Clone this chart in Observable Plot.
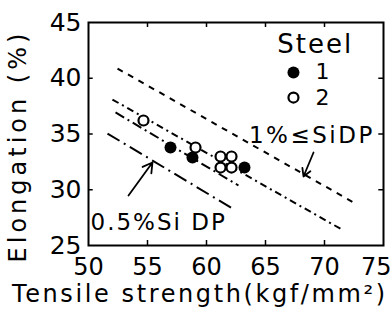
<!DOCTYPE html>
<html><head><meta charset="utf-8">
<script src="https://cdn.jsdelivr.net/npm/d3@7"></script>
<script src="https://cdn.jsdelivr.net/npm/@observablehq/plot@0.6"></script>
<style>html,body{margin:0;padding:0;background:#fff}</style>
</head><body><div id="chart"></div>
<script>
const xTicks = [50, 55, 60, 65, 70, 75];
const yTicks = [25, 30, 35, 40, 45];
const innerXTicks = [55, 60, 65, 70];
const innerYTicks = [30, 35, 40];
const xTitle = "Tensile strength(kgf/mm²)";
const yTitle = "Elongation (%)";

// Steel 1 (filled) and Steel 2 (open)
const steel1X = [56.95, 58.81, 63.22];
const steel1Y = [33.79, 32.89, 32.0];
const steel2X = [54.66, 59.07, 61.19, 62.12, 61.19, 62.12];
const steel2Y = [36.21, 33.79, 32.98, 32.98, 31.99, 31.99];

// Trend lines
const lineNames = ["1%≤SiDP", "Steel 2", "Steel 1", "0.5%Si DP"];
const lineX1 = [52.46, 52.03, 52.29, 51.61];
const lineY1 = [40.87, 38.09, 36.93, 35.04];
const lineX2 = [72.46, 71.61, 62.71, 62.20];
const lineY2 = [28.86, 26.35, 30.38, 28.32];

// Arrows for annotations
const arrowX1 = [69.07, 53.39];
const arrowY1 = [33.34, 29.48];
const arrowX2 = [68.22, 55.42];
const arrowY2 = [31.19, 32.44];

// Annotation labels
const labelText = ["1%≤SiDP", "0.5%Si DP"];
const labelX = [63.6, 50.17];
const labelY = [34.87, 27.06];
const legendTitle = "Steel";

// Legend
const legendNames = ["1", "2"];
const legendX = [67.37, 67.37];
const legendY = [40.52, 38.27];

const dashes = ["6,6", "7,4,2,4", "10,4,2,4", "14,5,2,5"];
const links = lineNames.map((n, i) => ({n, x1: lineX1[i], y1: lineY1[i], x2: lineX2[i], y2: lineY2[i], dash: dashes[i]}));
const arrows = arrowX1.map((d, i) => ({x1: d, y1: arrowY1[i], x2: arrowX2[i], y2: arrowY2[i]}));
const labels = labelText.map((t, i) => ({t, x: labelX[i], y: labelY[i]}));
const s1 = steel1X.map((x, i) => ({x, y: steel1Y[i]}));
const s2 = steel2X.map((x, i) => ({x, y: steel2Y[i]}));

const chart = Plot.plot({
  width: 392, height: 316,
  marginLeft: 88, marginRight: 9, marginTop: 22, marginBottom: 71,
  style: {fontFamily: "DejaVu Sans", fontSize: "24px", background: "white", color: "black", overflow: "visible"},
  x: {domain: [50, 75]},
  y: {domain: [25, 45]},
  marks: [
    Plot.axisX({ticks: xTicks.slice(0, -1), tickSize: 0, tickPadding: 12, fontSize: 24, label: null}),
    Plot.axisX({ticks: xTicks.slice(-1), tickSize: 0, tickPadding: 12, fontSize: 24, textAnchor: "end", dx: 8, label: null}),
    Plot.axisY({ticks: yTicks, tickSize: 0, tickPadding: 7, fontSize: 25, label: null}),
    Plot.frame({stroke: "black", strokeWidth: 2}),
    Plot.ruleX(innerXTicks, {x: d => d, y1: 25, y2: 25.45, strokeWidth: 1.5}),
    Plot.ruleX(innerXTicks, {x: d => d, y1: 44.55, y2: 45, strokeWidth: 1.5}),
    Plot.ruleY(innerYTicks, {y: d => d, x1: 50, x2: 50.4, strokeWidth: 1.5}),
    Plot.ruleY(innerYTicks, {y: d => d, x1: 74.6, x2: 75, strokeWidth: 1.5}),
    ...links.map(l => Plot.link([l], {x1: "x1", y1: "y1", x2: "x2", y2: "y2", stroke: "black", strokeWidth: 2, strokeDasharray: l.dash})),
    Plot.arrow(arrows, {x1: "x1", y1: "y1", x2: "x2", y2: "y2", stroke: "black", strokeWidth: 1.8, headLength: 9}),
    Plot.dot(s2, {x: "x", y: "y", r: 5, stroke: "black", strokeWidth: 2.2, fill: "white"}),
    Plot.dot(s1, {x: "x", y: "y", r: 6, fill: "black"}),
    Plot.text(labels, {x: "x", y: "y", text: "t", textAnchor: "start", fontSize: 23, fill: "black"}),
    Plot.text([legendTitle], {x: () => 66.0, y: () => 43.0, text: d => d, textAnchor: "start", fontSize: 26, fill: "black"}),
    Plot.dot([0], {x: () => legendX[0], y: () => legendY[0], r: 6, fill: "black"}),
    Plot.dot([0], {x: () => legendX[1], y: () => legendY[1], r: 5, stroke: "black", strokeWidth: 2.2, fill: "white"}),
    Plot.text(legendNames, {x: (d, i) => legendX[i], y: (d, i) => legendY[i], text: d => d, dx: 22, textAnchor: "start", fontSize: 22, fill: "black"}),
    Plot.text([xTitle], {frameAnchor: "bottom", text: d => d, textAnchor: "start", dx: -224, dy: 56, fontSize: 24, fill: "black"}),
    Plot.text([yTitle], {frameAnchor: "left", text: d => d, textAnchor: "middle", lineAnchor: "middle", rotate: -90, dx: -70, dy: 12, fontSize: 24, fill: "black"})
  ]
});
// widen letter spacing to mimic the reference's wide lettering
const spacing = new Map([[xTitle, "2.6px"], [yTitle, "4px"], [legendTitle, "2px"], [labelText[0], "2.5px"], [labelText[1], "2px"]]);
d3.select(chart).selectAll("text").each(function() {
  const s = spacing.get(this.textContent);
  if (s) this.style.letterSpacing = s;
});
document.getElementById("chart").appendChild(chart);
</script>
</body></html>
